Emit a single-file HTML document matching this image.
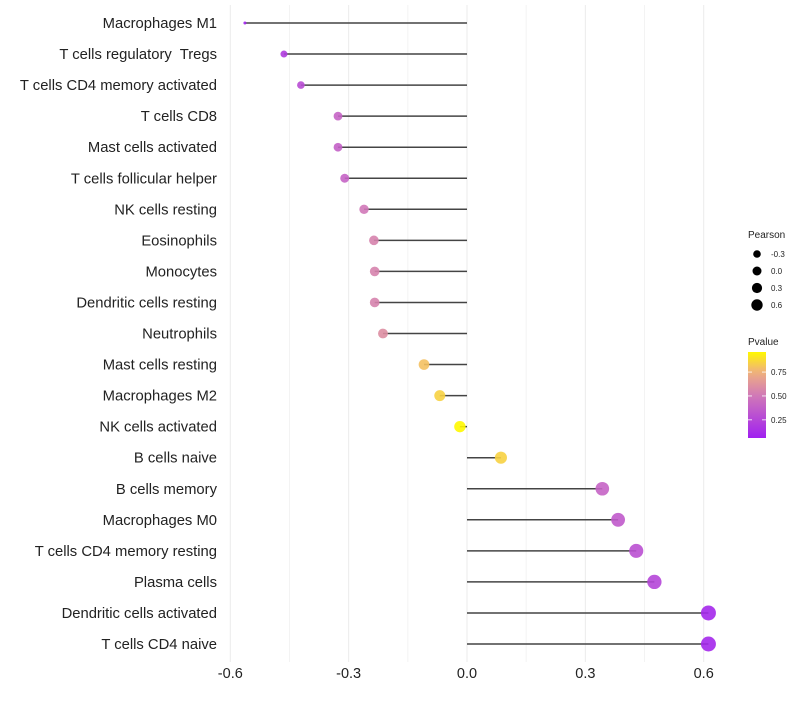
<!DOCTYPE html>
<html><head><meta charset="utf-8"><style>
body{margin:0;background:#fff;font-family:"Liberation Sans",sans-serif}
</style></head><body>
<svg id="chart" width="800" height="700" xmlns="http://www.w3.org/2000/svg"></svg>
<script>
const categories=["Macrophages M1","T cells regulatory  Tregs","T cells CD4 memory activated","T cells CD8","Mast cells activated","T cells follicular helper","NK cells resting","Eosinophils","Monocytes","Dendritic cells resting","Neutrophils","Mast cells resting","Macrophages M2","NK cells activated","B cells naive","B cells memory","Macrophages M0","T cells CD4 memory resting","Plasma cells","Dendritic cells activated","T cells CD4 naive"];
const pearson=[-0.563,-0.464,-0.421,-0.327,-0.327,-0.31,-0.261,-0.236,-0.234,-0.234,-0.213,-0.109,-0.069,-0.018,0.086,0.343,0.383,0.429,0.475,0.612,0.612];
const pvalues=[0.08,0.2,0.28,0.4,0.38,0.4,0.5,0.55,0.55,0.55,0.6,0.8,0.85,0.96,0.85,0.4,0.35,0.3,0.25,0.1,0.1];
const xTicks=[-0.6,-0.3,0.0,0.3,0.6];
const xTickLabels=["-0.6","-0.3","0.0","0.3","0.6"];
const sizeLegend=["-0.3","0.0","0.3","0.6"];
const colorLegend=["0.75","0.50","0.25"];
const colorLegendVals=[0.75,0.5,0.25];

const svg=document.getElementById('chart');
const NS="http://www.w3.org/2000/svg";
function mk(t,a,p){const e=document.createElementNS(NS,t);for(const k in a)e.setAttribute(k,a[k]);(p||svg).appendChild(e);return e;}
const x=v=>467+v*394.5;
const y=i=>23+i*31.05;
const rScale=v=>v<-0.55?1.5:1.79+5.25*Math.sqrt(Math.max(0,v+0.57));
function lerp(a,b,t){return a.map((c,i)=>Math.round(c+(b[i]-c)*t));}
const stops=[[0.06,[160,32,240]],[0.5,[208,120,184]],[0.75,[240,176,128]],[0.96,[255,248,0]]];
function col(p){if(p<=stops[0][0])return `rgb(${stops[0][1]})`;for(let i=0;i<stops.length-1;i++){if(p<=stops[i+1][0]){const t=(p-stops[i][0])/(stops[i+1][0]-stops[i][0]);return `rgb(${lerp(stops[i][1],stops[i+1][1],t)})`;}}return `rgb(${stops[3][1]})`;}

// grid
for(let k=-4;k<=4;k++){
  const v=k*0.15;
  const g=mk('line',{x1:x(v),x2:x(v),y1:5,y2:662,stroke:k%2===0?'#ebebeb':'#f3f3f3','stroke-width':1});
  
  
}
// ticks
xTicks.forEach((v,i)=>{
  const t=mk('text',{x:x(v),y:678,'text-anchor':'middle','font-size':14.5,fill:'#222'});
  t.textContent=xTickLabels[i];
  
  
});
categories.forEach((c,i)=>{
  const t=mk('text',{x:217,y:y(i)+5,'text-anchor':'end','font-size':14.8,fill:'#222','xml:space':'preserve',style:'white-space:pre'});
  t.textContent=c;
  
  
  const l=mk('line',{x1:x(0),x2:x(pearson[i]),y1:y(i),y2:y(i),stroke:'#444','stroke-width':1.5});
  
  
  const d=mk('circle',{cx:x(pearson[i]),cy:y(i),r:rScale(pearson[i]),fill:col(pvalues[i]),'fill-opacity':0.9});
  
  
});
// size legend
const lt=mk('text',{x:748,y:238,'font-size':10,fill:'#222'});lt.textContent='Pearson';


const lr=[3.8,4.5,5.1,5.7];
sizeLegend.forEach((s,i)=>{
  const cy=254+i*17;
  const c=mk('circle',{cx:757,cy:cy,r:lr[i],fill:'#000'});
  
  
  const t=mk('text',{x:771,y:cy+3,'font-size':8,fill:'#222'});t.textContent=s;
  
  
});
// color legend
const ct=mk('text',{x:748,y:345,'font-size':10,fill:'#222'});ct.textContent='Pvalue';


const defs=mk('defs',{});
const grad=mk('linearGradient',{id:'pg',x1:0,y1:1,x2:0,y2:0},defs);
for(let k=0;k<=10;k++){const p=0.06+0.9*k/10;mk('stop',{offset:k/10,'stop-color':col(p)},grad);}
const cb=mk('rect',{x:748,y:352,width:18,height:86,fill:'url(#pg)'});


const cy=p=>438-(p-0.06)/0.9*86;
colorLegend.forEach((s,i)=>{
  const yy=cy(colorLegendVals[i]);
  mk('line',{x1:748,x2:752,y1:yy,y2:yy,stroke:'#fff','stroke-width':0.8});
  mk('line',{x1:762,x2:766,y1:yy,y2:yy,stroke:'#fff','stroke-width':0.8});
  const t=mk('text',{x:771,y:yy+3,'font-size':8,fill:'#222'});t.textContent=s;
  
  
});
</script>
</body></html>
